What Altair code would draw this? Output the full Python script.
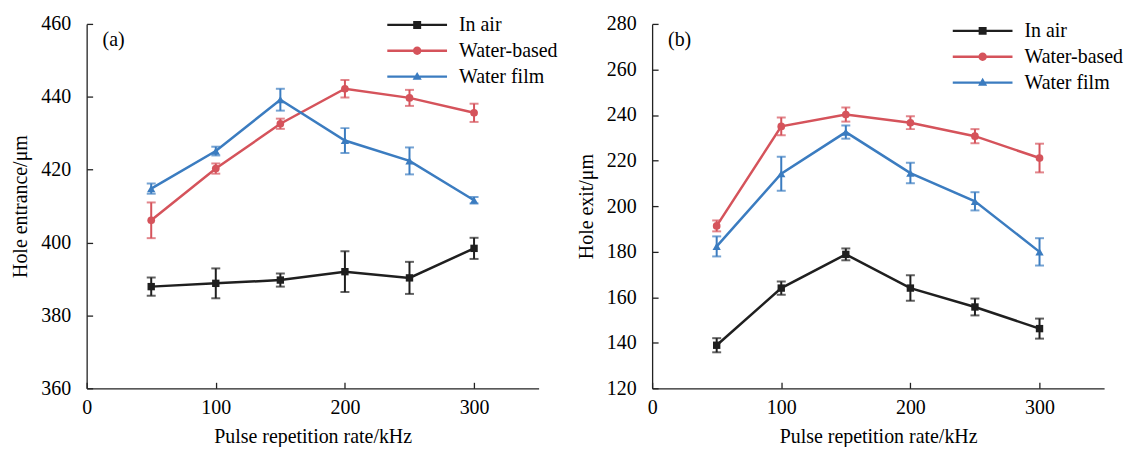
import altair as alt
import pandas as pd

rate = [50, 100, 150, 200, 250, 300]
series_names = ["In air", "Water-based", "Water film"]
colors = ["#1f1f1f", "#d5535b", "#3b7cc0"]

# Panel (a): hole entrance
a_air = [387.9, 388.8, 389.7, 392.0, 390.3, 398.4]
a_air_err = [2.5, 4.1, 1.8, 5.6, 4.4, 2.9]
a_wb = [406.1, 420.3, 432.6, 442.2, 439.7, 435.6]
a_wb_err = [4.9, 1.4, 1.4, 2.4, 2.2, 2.5]
a_wf = [414.8, 425.1, 439.2, 428.0, 422.4, 411.6]
a_wf_err = [1.4, 1.2, 3.0, 3.4, 3.7, 0.9]

# Panel (b): hole exit
b_air = [138.9, 164.0, 178.8, 164.0, 155.7, 146.2]
b_air_err = [3.1, 2.9, 2.6, 5.6, 3.7, 4.4]
b_wb = [191.3, 235.0, 240.2, 236.6, 230.7, 221.1]
b_wb_err = [2.4, 3.9, 3.1, 2.8, 3.1, 6.3]
b_wf = [182.3, 214.2, 232.5, 214.5, 202.1, 179.9]
b_wf_err = [4.4, 7.5, 2.9, 4.5, 4.0, 6.0]

x_ticks = [0, 100, 200, 300]
a_y_ticks = [360, 380, 400, 420, 440, 460]
b_y_ticks = [120, 140, 160, 180, 200, 220, 240, 260, 280]

FONT = "Liberation Serif"
W, H = 454, 366

marker_shapes = ["square", "circle", "triangle-up"]
# legend symbols: line segment plus marker (1 unit = 10 px)
legend_paths = [
    "M-3,-0.12H3V0.12H-3Z M-0.4,-0.4H0.4V0.4H-0.4Z",
    "M-3,-0.12H3V0.12H-3Z M-0.42,0A0.42,0.42 0 1,1 0.42,0A0.42,0.42 0 1,1 -0.42,0Z",
    "M-3,-0.12H3V0.12H-3Z M0,-0.48L0.46,0.32L-0.46,0.32Z",
]


def make_df(vals, errs):
    rows = []
    for name, v, e in zip(series_names, vals, errs):
        for r, yv, ev in zip(rate, v, e):
            rows.append({"rate": r, "series": name, "value": yv,
                         "lo": yv - ev, "hi": yv + ev})
    return pd.DataFrame(rows)


def leg_props(legend_y):
    return dict(orient="none", legendX=302, legendY=legend_y,
                title=None, labelFont=FONT, labelFontSize=20,
                labelColor="black", symbolSize=400, symbolOffset=20,
                symbolStrokeWidth=0, symbolOpacity=1, rowPadding=6,
                labelOffset=32, padding=0)


def panel(df, ydom, yticks, ytitle, tag, legend_y):
    base = alt.Chart(df)
    xenc = alt.X("rate:Q", scale=alt.Scale(domain=[0, 350], nice=False),
                 axis=alt.Axis(values=x_ticks, title="Pulse repetition rate/kHz",
                               grid=False, labelFont=FONT, labelFontSize=20,
                               titleFont=FONT, titleFontSize=20, titleFontWeight="normal",
                               labelColor="black", titleColor="black",
                               domainColor="#222", tickColor="#222", domainWidth=1.3,
                               tickWidth=1.3, tickSize=alt.ExprRef(expr="-6"),
                               labelPadding=15, titlePadding=9, labelFlush=False))
    yenc = alt.Y("value:Q", scale=alt.Scale(domain=ydom, nice=False, zero=False),
                 axis=alt.Axis(values=yticks, title=ytitle, grid=False,
                               labelFont=FONT, labelFontSize=20,
                               titleFont=FONT, titleFontSize=20, titleFontWeight="normal",
                               labelColor="black", titleColor="black",
                               domainColor="#222", tickColor="#222", domainWidth=1.3,
                               tickWidth=1.3, tickSize=alt.ExprRef(expr="-6"),
                               labelPadding=22, titlePadding=10, labelFlush=False))
    cscale = alt.Scale(domain=series_names, range=colors)
    col = alt.Color("series:N", scale=cscale, legend=None)

    leg = base.mark_point(filled=True, size=0, opacity=1).encode(
        x=xenc, y=yenc,
        color=alt.Color("series:N", scale=cscale, legend=alt.Legend(**leg_props(legend_y))),
        shape=alt.Shape("series:N",
                        scale=alt.Scale(domain=series_names, range=legend_paths),
                        legend=alt.Legend(**leg_props(legend_y))),
    )

    lines = base.mark_line(strokeWidth=2.5).encode(x="rate:Q", y="value:Q", color=col)
    rules = base.mark_rule(strokeWidth=2).encode(
        x="rate:Q", y="lo:Q", y2="hi:Q", color=col)
    cap_lo = base.mark_tick(orient="horizontal", size=9, thickness=2).encode(
        x="rate:Q", y="lo:Q", color=col)
    cap_hi = base.mark_tick(orient="horizontal", size=9, thickness=2).encode(
        x="rate:Q", y="hi:Q", color=col)

    pts = []
    for name, shp, sz in zip(series_names, marker_shapes, [55, 60, 70]):
        pts.append(base.transform_filter(alt.datum.series == name)
                   .mark_point(shape=shp, filled=True, size=sz, opacity=1)
                   .encode(x="rate:Q", y="value:Q", color=col))

    label = alt.Chart(pd.DataFrame({"t": [tag]})).mark_text(
        align="left", baseline="middle", font=FONT, fontSize=20, color="black"
    ).encode(x=alt.value(16), y=alt.value(16), text="t:N")

    return alt.layer(leg, lines, rules, cap_lo, cap_hi, *pts, label).properties(
        width=W, height=H)


pa = panel(make_df([a_air, a_wb, a_wf], [a_air_err, a_wb_err, a_wf_err]),
           [360, 460], a_y_ticks, "Hole entrance/μm", "(a)", -9)
pb = panel(make_df([b_air, b_wb, b_wf], [b_air_err, b_wb_err, b_wf_err]),
           [120, 280], b_y_ticks, "Hole exit/μm", "(b)", -3)

chart = alt.hconcat(pa, pb, spacing=114, bounds="flush").resolve_scale(
    color="independent", shape="independent"
).configure(font=FONT).configure_legend(labelFont=FONT).configure_axis(
    labelFont=FONT, titleFont=FONT
).configure_view(stroke=None).properties(
    padding={"left": 3, "top": 5, "right": 0, "bottom": 0},
    background="white",
)

chart.save("out.html", embed_options={"renderer": "svg", "actions": False})
